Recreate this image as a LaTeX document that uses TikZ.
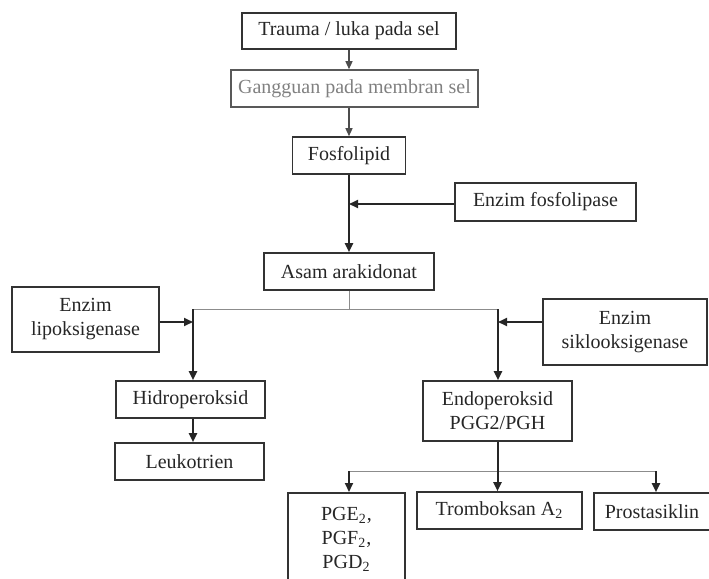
\documentclass[tikz,border=0pt]{standalone}
\usepackage{fontspec}
\setmainfont{Liberation Serif}
\usetikzlibrary{arrows.meta,positioning}

\begin{document}
\begin{tikzpicture}[
  x=0.5pt, y=-0.5pt,
  font=\fontsize{10}{12}\selectfont,
  box/.style={draw=black!80, line width=0.8pt, align=center, inner sep=2pt, text=black!85, minimum height=18.5pt},
  pale/.style={box, draw=black!65, text=black!50},
  arr/.style={-{Triangle[length=4.5pt,width=4pt]}, line width=1pt, black!85},
  tarr/.style={-{Triangle[length=4pt,width=3.5pt]}, line width=0.7pt, black!70},
  thin/.style={line width=0.5pt, black!45}
]
\useasboundingbox (0,0) rectangle (709,579);
\clip (0,0) rectangle (709,579);
% top chain
\node[box, minimum width=107pt, minimum height=18pt] (trauma) at (349,31) {Trauma / luka pada sel};
\node[pale, minimum width=123.5pt] (gangguan) at (354.5,88.5) {Gangguan pada membran sel};
\node[box, minimum width=56.5pt] (fosfo) at (349,155.5) {Fosfolipid};
\node[box, minimum width=90.5pt, minimum height=19pt] (fosfolipase) at (545.5,202) {Enzim fosfolipase};
\node[box, minimum width=85pt] (asam) at (349,271.5) {Asam arakidonat};
% two branches
\node[box, minimum width=73.5pt, minimum height=32.5pt] (lipo) at (85.5,319.5) {Enzim\\lipoksigenase};
\node[box, minimum width=82pt, minimum height=33pt] (siklo) at (625,332) {Enzim\\siklooksigenase};
\node[box, minimum width=74.5pt] (hidro) at (190.5,399.5) {Hidroperoksid};
\node[box, minimum width=74.5pt] (leuko) at (189.5,461.5) {Leukotrien};
\node[box, minimum width=74.5pt, minimum height=30pt] (endo) at (497.5,411) {Endoperoksid\\PGG2/PGH};
% products
\node[box, anchor=north, minimum width=58.5pt, inner ysep=7pt] (pge) at (346.5,492) {PGE\textsubscript{2},\\PGF\textsubscript{2},\\PGD\textsubscript{2}};
\node[box, minimum width=82.5pt] (trombo) at (499.5,510.5) {Tromboksan A\textsubscript{2}};
\node[box, minimum width=58pt] (prosta) at (652,511.5) {Prostasiklin};

\coordinate (lsplit) at (193,309);
\coordinate (rsplit) at (498,309);
\coordinate (jlip) at (193,322);
\coordinate (jsik) at (498,322);
\coordinate (jfos) at (349,204);
\coordinate (bl) at (349,471);
\coordinate (br) at (656,471);

\draw[tarr] (trauma.south) -- (trauma.south |- gangguan.north);
\draw[tarr] (fosfo.north |- gangguan.south) -- (fosfo.north);
\draw[arr] (fosfo.south) -- (asam.north);
\draw[arr] (fosfolipase.west |- jfos) -- (jfos);
\draw[thin] (asam.south) -- (asam.south |- lsplit);
\draw[thin] (lsplit) -- (rsplit);
\draw[arr] (lsplit) -- (lsplit |- hidro.north);
\draw[arr] (rsplit) -- (rsplit |- endo.north);
\draw[arr] (lipo.east |- jlip) -- (jlip);
\draw[arr] (siklo.west |- jsik) -- (jsik);
\draw[arr] (lsplit |- hidro.south) -- (lsplit |- leuko.north);
\draw[thin] (bl) -- (br);
\draw[arr] (endo.south) -- (endo.south |- trombo.north);
\draw[arr] (bl) -- (bl |- pge.north);
\draw[arr] (br) -- (br |- prosta.north);
\end{tikzpicture}
\end{document}
